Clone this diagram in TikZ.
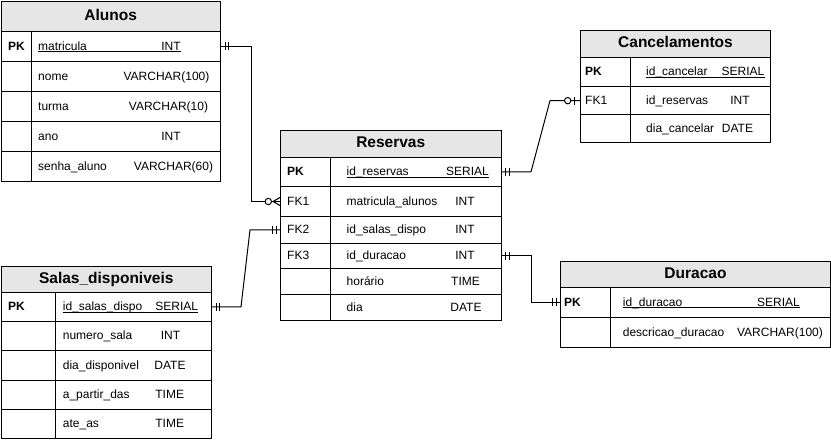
\documentclass[tikz,border=0pt]{standalone}
\usepackage{fontspec}
\setmainfont{Liberation Sans}
\usetikzlibrary{calc}
\definecolor{titlegray}{HTML}{E6E6E6}
\tikzset{
  tabtitle/.style={draw, fill=titlegray, anchor=north west, inner sep=0pt, line width=1pt,
    font=\fontsize{15.5}{18}\selectfont\bfseries},
  rowbox/.style={draw, anchor=north west, inner sep=0pt, line width=1pt},
  celltext/.style={inner sep=0pt, font=\fontsize{12}{14}\selectfont},
  lefttext/.style={celltext, anchor=base west},
  typetext/.style={celltext, anchor=base},
  conn/.style={line width=1pt, line join=miter},
  endmark/.style={line width=1pt},
}
% table geometry set per table: \tl left, \td divider, \tr right, \tkx key x, \tfx field x
\newcommand\ertitle[4]{% name, top, bottom, text
  \pgfmathsetmacro\erw{\tr-\tl}\pgfmathsetmacro\erh{#3-#2}%
  \node[tabtitle, minimum width=\erw pt, minimum height=\erh pt] (#1) at (\tl,#2) {\vphantom{Ap}#4};}
\newcommand\erow[7]{% name, top, bottom, key, field, type x, type
  \pgfmathsetmacro\erw{\tr-\tl}\pgfmathsetmacro\erh{#3-#2}\pgfmathsetmacro\erb{(#2+#3)/2+4.3}%
  \node[rowbox, minimum width=\erw pt, minimum height=\erh pt] (#1) at (\tl,#2) {};
  \draw[line width=1pt] (\td,#2) -- (\td,#3);
  \node[lefttext] (#1k) at (\tkx,\erb) {#4};
  \node[lefttext] (#1f) at (\tfx,\erb) {#5};
  \node[typetext] (#1t) at (#6,\erb) {#7};}
\newcommand\erul[1]{\draw[line width=0.8pt] ([yshift=-1.5pt]#1f.base west) -- ([yshift=-1.5pt]#1t.base east);}
\newcommand\onebars[2]{% point, direction
  \draw[endmark] ([xshift=#2*4pt,yshift=4pt]#1) -- ([xshift=#2*4pt,yshift=-4pt]#1);
  \draw[endmark] ([xshift=#2*7.5pt,yshift=4pt]#1) -- ([xshift=#2*7.5pt,yshift=-4pt]#1);}
\newcommand\zeromany[2]{%
  \draw[endmark] ([xshift=#2*7pt]#1) -- ([yshift=4pt]#1);
  \draw[endmark] ([xshift=#2*7pt]#1) -- ([yshift=-4pt]#1);
  \draw[endmark, fill=white] ([xshift=#2*11.7pt]#1) circle (3.2pt);}
\newcommand\zeroone[2]{%
  \draw[endmark] ([xshift=#2*5.7pt,yshift=4pt]#1) -- ([xshift=#2*5.7pt,yshift=-4pt]#1);
  \draw[endmark, fill=white] ([xshift=#2*12.3pt]#1) circle (3.2pt);}
\begin{document}
\begin{tikzpicture}[x=1pt, y=-1pt]
\useasboundingbox (0,0) rectangle (831,444);

% ---------- Alunos ----------
\def\tl{0.5}\def\td{31}\def\tr{220}\def\tkx{8}\def\tfx{38}
\ertitle{alunos}{1}{31}{Alunos}
\erow{alr1}{31}{61}{\textbf{PK}}{matricula}{171}{INT}
\erow{alr2}{61}{91}{}{nome}{166.5}{VARCHAR(100)}
\erow{alr3}{91}{121}{}{turma}{168.5}{VARCHAR(10)}
\erow{alr4}{121}{151}{}{ano}{171}{INT}
\erow{alr5}{151}{181}{}{senha\_aluno}{173.5}{VARCHAR(60)}
\erul{alr1}

% ---------- Reservas ----------
\def\tl{280}\def\td{330}\def\tr{500.5}\def\tkx{287}\def\tfx{346.5}
\ertitle{reservas}{130}{156.7}{Reservas}
\erow{rer1}{156.7}{186}{\textbf{PK}}{id\_reservas}{467.5}{SERIAL}
\erow{rer2}{186}{216}{FK1}{matricula\_alunos}{465}{INT}
\erow{rer3}{216}{242.7}{FK2}{id\_salas\_dispo}{465}{INT}
\erow{rer4}{242.7}{268}{FK3}{id\_duracao}{465}{INT}
\erow{rer5}{268}{294.3}{}{horário}{465.5}{TIME}
\erow{rer6}{294.3}{320}{}{dia}{466}{DATE}
\erul{rer1}

% ---------- Cancelamentos ----------
\def\tl{580}\def\td{630.7}\def\tr{770}\def\tkx{585}\def\tfx{646}
\ertitle{cancel}{30}{56.7}{Cancelamentos}
\erow{car1}{56.7}{86}{\textbf{PK}}{id\_cancelar}{743}{SERIAL}
\erow{car2}{86}{114.3}{FK1}{id\_reservas}{740}{INT}
\erow{car3}{114.3}{141.7}{}{dia\_cancelar}{737.5}{DATE}
\erul{car1}

% ---------- Salas_disponiveis ----------
\def\tl{0.5}\def\td{55.7}\def\tr{211}\def\tkx{8}\def\tfx{62.7}
\ertitle{salas}{266}{291.7}{Salas\_disponiveis}
\erow{sar1}{291.7}{321}{\textbf{PK}}{id\_salas\_dispo}{176.7}{SERIAL}
\erow{sar2}{321}{350}{}{numero\_sala}{170.5}{INT}
\erow{sar3}{350}{380}{}{dia\_disponivel}{170}{DATE}
\erow{sar4}{380}{409}{}{a\_partir\_das}{169.7}{TIME}
\erow{sar5}{409}{438}{}{ate\_as}{169.7}{TIME}
\erul{sar1}

% ---------- Duracao ----------
\def\tl{560}\def\td{610.7}\def\tr{830}\def\tkx{564}\def\tfx{622.7}
\ertitle{duracao}{261}{286.7}{Duracao}
\erow{dur1}{286.7}{316.7}{\textbf{PK}}{id\_duracao}{778.5}{SERIAL}
\erow{dur2}{316.7}{346.7}{}{descricao\_duracao}{780}{VARCHAR(100)}
\erul{dur1}

% ---------- connectors ----------
\draw[conn] (alr1.east) -- ++(30,0) |- (rer2.west);
\onebars{alr1.east}{1}
\zeromany{rer2.west}{-1}

\draw[conn] (sar1.east) -- ++(29,0) -- ([xshift=-30pt]rer3.west) -- (rer3.west);
\onebars{sar1.east}{1}
\onebars{rer3.west}{-1}

\draw[conn] (rer1.east) -- ++(29.5,0) -- ([xshift=-30pt]car2.west) -- (car2.west);
\onebars{rer1.east}{1}
\zeroone{car2.west}{-1}

\draw[conn] (rer4.east) -- ++(29.5,0) |- (dur1.west);
\onebars{rer4.east}{1}
\onebars{dur1.west}{-1}
\end{tikzpicture}
\end{document}
